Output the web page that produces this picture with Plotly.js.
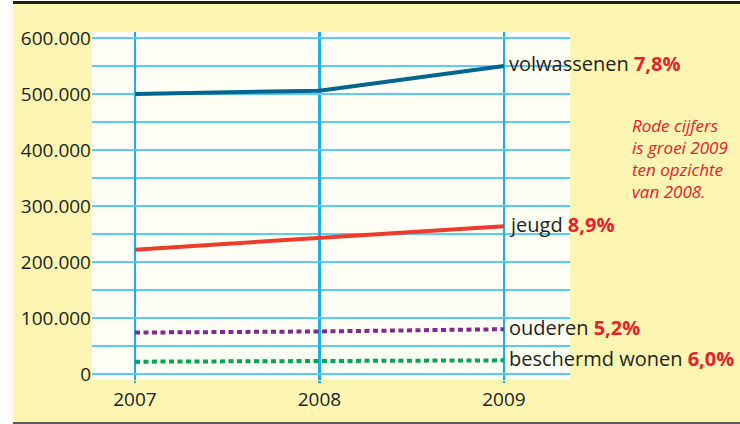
<!DOCTYPE html>
<html>
<head>
<meta charset="utf-8">
<script src="https://cdn.plot.ly/plotly-3.0.1.min.js"></script>
<style>
html,body{margin:0;padding:0;background:#fff;width:740px;height:424px;overflow:hidden;}
#wrap{position:absolute;left:13px;top:1px;width:727px;border-top:3px solid #231F20;border-bottom:2px solid #5a5a5a;}
#chart{width:727px;height:418px;}
</style>
</head>
<body>
<div id="wrap"><div id="chart"></div></div>
<script>
// Data
const years = [2007, 2008, 2009];
const volwassenen = [500000, 506000, 550000];
const jeugd = [222000, 243000, 264000];
const ouderen = [74000, 76000, 80000];
const beschermdWonen = [22000, 23000, 24400];

const seriesNames = ['volwassenen', 'jeugd', 'ouderen', 'beschermd wonen'];
const growthLabels = ['7,8%', '8,9%', '5,2%', '6,0%'];

const yTickVals = [0, 100000, 200000, 300000, 400000, 500000, 600000];
const yTickText = ['0', '100.000', '200.000', '300.000', '400.000', '500.000', '600.000'];
const xTickText = ['2007', '2008', '2009'];

const noteText = 'Rode cijfers<br>is groei 2009<br>ten opzichte<br>van 2008.';

const colors = ['#00668F', '#EE3B2B', '#7E2A8E', '#00A651'];
const dashes = ['solid', 'solid', '5px,3.5px', '5px,3.5px'];
const allSeries = [volwassenen, jeugd, ouderen, beschermdWonen];

const RED = '#E8202A';
const TXT = '#231F20';
const FONT = '"Open Sans", sans-serif';

const traces = allSeries.map((vals, i) => ({
  x: years,
  y: vals,
  type: 'scatter',
  mode: 'lines',
  name: seriesNames[i],
  line: {color: colors[i], width: 4, dash: dashes[i]},
  hoverinfo: 'skip'
}));

const annotations = allSeries.map((vals, i) => ({
  x: years[years.length - 1],
  y: vals[vals.length - 1],
  xref: 'x', yref: 'y',
  xanchor: 'left', yanchor: 'middle',
  xshift: 3,
  yshift: 2,
  showarrow: false,
  text: seriesNames[i] + ' <b><span style="color:' + RED + '">' + growthLabels[i] + '</span></b>',
  font: {family: FONT, size: 20, color: TXT}
}));

annotations.push({
  x: 1.125, y: 0.77,
  xref: 'paper', yref: 'paper',
  xanchor: 'left', yanchor: 'top',
  align: 'left',
  showarrow: false,
  text: '<i>' + noteText + '</i>',
  font: {family: FONT, size: 17, color: RED}
});

const layout = {
  width: 727,
  height: 418,
  margin: {l: 79, r: 170, t: 28, b: 42},
  paper_bgcolor: '#FDF5B2',
  plot_bgcolor: '#FFFEF4',
  showlegend: false,
  font: {family: FONT, size: 19, color: TXT},
  xaxis: {
    range: [2006.767, 2009.358],
    tickvals: years,
    ticktext: xTickText,
    showgrid: true,
    gridcolor: '#1AAFE6',
    gridwidth: 2.5,
    zeroline: false,
    showline: false,
    ticks: 'outside',
    ticklen: 2,
    tickwidth: 2.5,
    tickcolor: '#1AAFE6',
    tickfont: {family: FONT, size: 19, color: TXT}
  },
  yaxis: {
    range: [-10700, 610700],
    tickvals: yTickVals,
    ticktext: yTickText,
    showgrid: true,
    gridcolor: '#5ECBF3',
    gridwidth: 1.5,
    minor: {dtick: 50000, tick0: 0, showgrid: true, gridcolor: '#5ECBF3', gridwidth: 1.5},
    zeroline: false,
    showline: false,
    ticks: '',
    tickfont: {family: FONT, size: 19, color: TXT}
  },
  annotations: annotations
};

Plotly.newPlot('chart', traces, layout, {displayModeBar: false, staticPlot: true});
</script>
</body>
</html>
